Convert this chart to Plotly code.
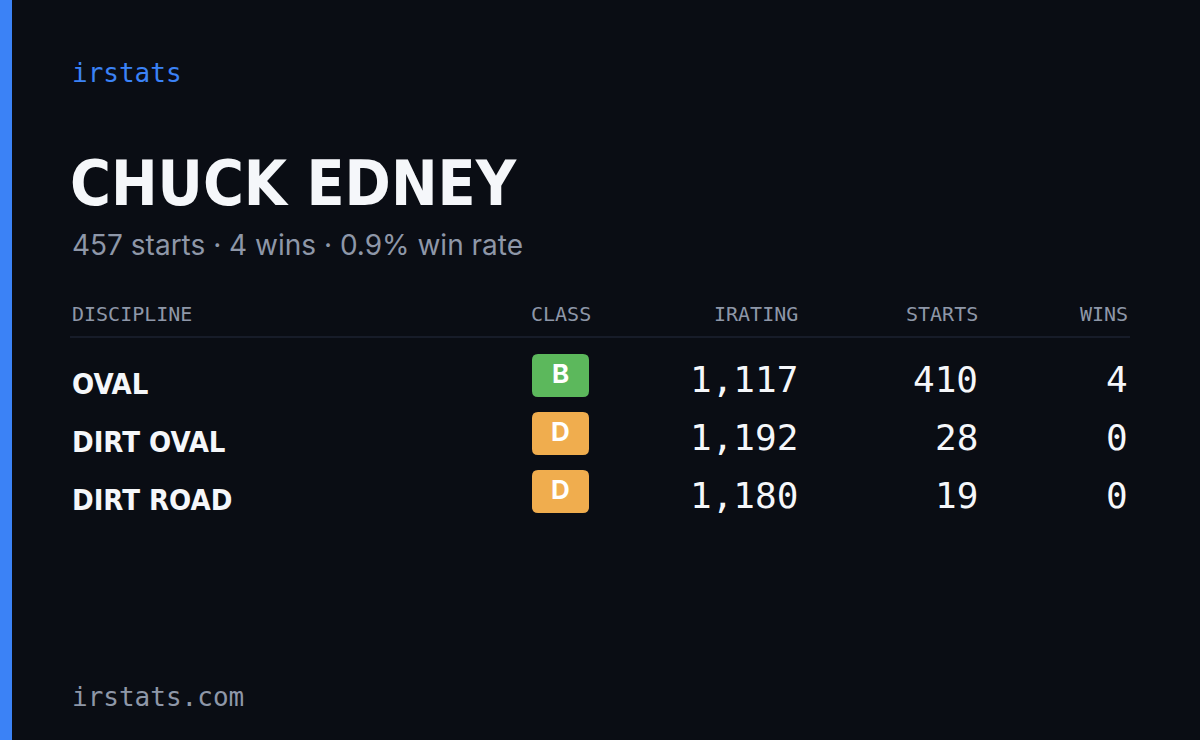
import plotly.graph_objects as go

brand = "irstats"
footer = "irstats.com"
driver = "CHUCK EDNEY"
summary = "457 starts · 4 wins · 0.9% win rate"
headers = ["DISCIPLINE", "CLASS", "IRATING", "STARTS", "WINS"]
disciplines = ["OVAL", "DIRT OVAL", "DIRT ROAD"]
classes = ["B", "D", "D"]
iratings = [1117, 1192, 1180]
starts = [410, 28, 19]
wins = [4, 0, 0]

class_colors = {"B": "#5cb85c", "D": "#f0ad4e"}
BG = "#0a0d14"
GRAY = "#8e97a8"
MONO = "DejaVu Sans Mono"
COND = "DejaVu Sans Condensed"

fig = go.Figure()
ann = []
shapes = [dict(type="rect", x0=0, x1=12, y0=0, y1=740, fillcolor="#3b82f6", line_width=0)]

def A(x, y, t, size, color, font, xanchor="left", bold=False):
    ann.append(dict(x=x, y=y, text=f"<b>{t}</b>" if bold else t, showarrow=False,
                    xanchor=xanchor, yanchor="middle", xref="x", yref="y",
                    font=dict(size=size, color=color, family=font)))

def rrect(x0, y0, x1, y1, r):
    return (f"M{x0+r},{y0} L{x1-r},{y0} Q{x1},{y0} {x1},{y0+r} L{x1},{y1-r} Q{x1},{y1} {x1-r},{y1} "
            f"L{x0+r},{y1} Q{x0},{y1} {x0},{y1-r} L{x0},{y0+r} Q{x0},{y0} {x0+r},{y0} Z")

A(70, 73, brand, 26, "#3b82f6", MONO)
A(68, 183, driver, 62, "#f5f7fa", COND, bold=True)
A(70, 245, summary, 28, GRAY, "Inter")
A(70, 697, footer, 26, GRAY, MONO)

hx = [(70, "left"), (593, "right"), (800, "right"), (980, "right"), (1130, "right")]
for (x, xa), h in zip(hx, headers):
    A(x, 314, h, 20, GRAY, MONO, xa)
shapes.append(dict(type="line", x0=70, x1=1130, y0=337, y1=337, line=dict(color="#1c2230", width=1.5)))

for i, d in enumerate(disciplines):
    y = 378 + i * 58
    A(70, y + 6, d, 29, "#f5f7fa", COND, bold=True)
    shapes.append(dict(type="path", path=rrect(532, y - 24, 589, y + 19, 6),
                       fillcolor=class_colors[classes[i]], line_width=0, layer="below"))
    A(560.5, y - 5, classes[i], 26, "white", "Inter", "center", bold=True)
    A(800, y + 1, f"{iratings[i]:,}", 36, "#f5f7fa", MONO, "right")
    A(980, y + 1, f"{starts[i]}", 36, "#f5f7fa", MONO, "right")
    A(1130, y + 1, f"{wins[i]}", 36, "#f5f7fa", MONO, "right")

fig.update_layout(width=1200, height=740, margin=dict(l=0, r=0, t=0, b=0),
                  paper_bgcolor=BG, plot_bgcolor=BG, annotations=ann, shapes=shapes,
                  xaxis=dict(range=[0, 1200], visible=False, fixedrange=True),
                  yaxis=dict(range=[740, 0], visible=False, fixedrange=True),
                  showlegend=False)
fig.write_html("out.html", config={"displayModeBar": False})
with open("out.html", encoding="utf-8") as f:
    html = f.read()
html = html.replace("<head>", "<head><style>html,body{margin:0;padding:0;background:#0a0d14;overflow:hidden}</style>", 1)
with open("out.html", "w", encoding="utf-8") as f:
    f.write(html)
